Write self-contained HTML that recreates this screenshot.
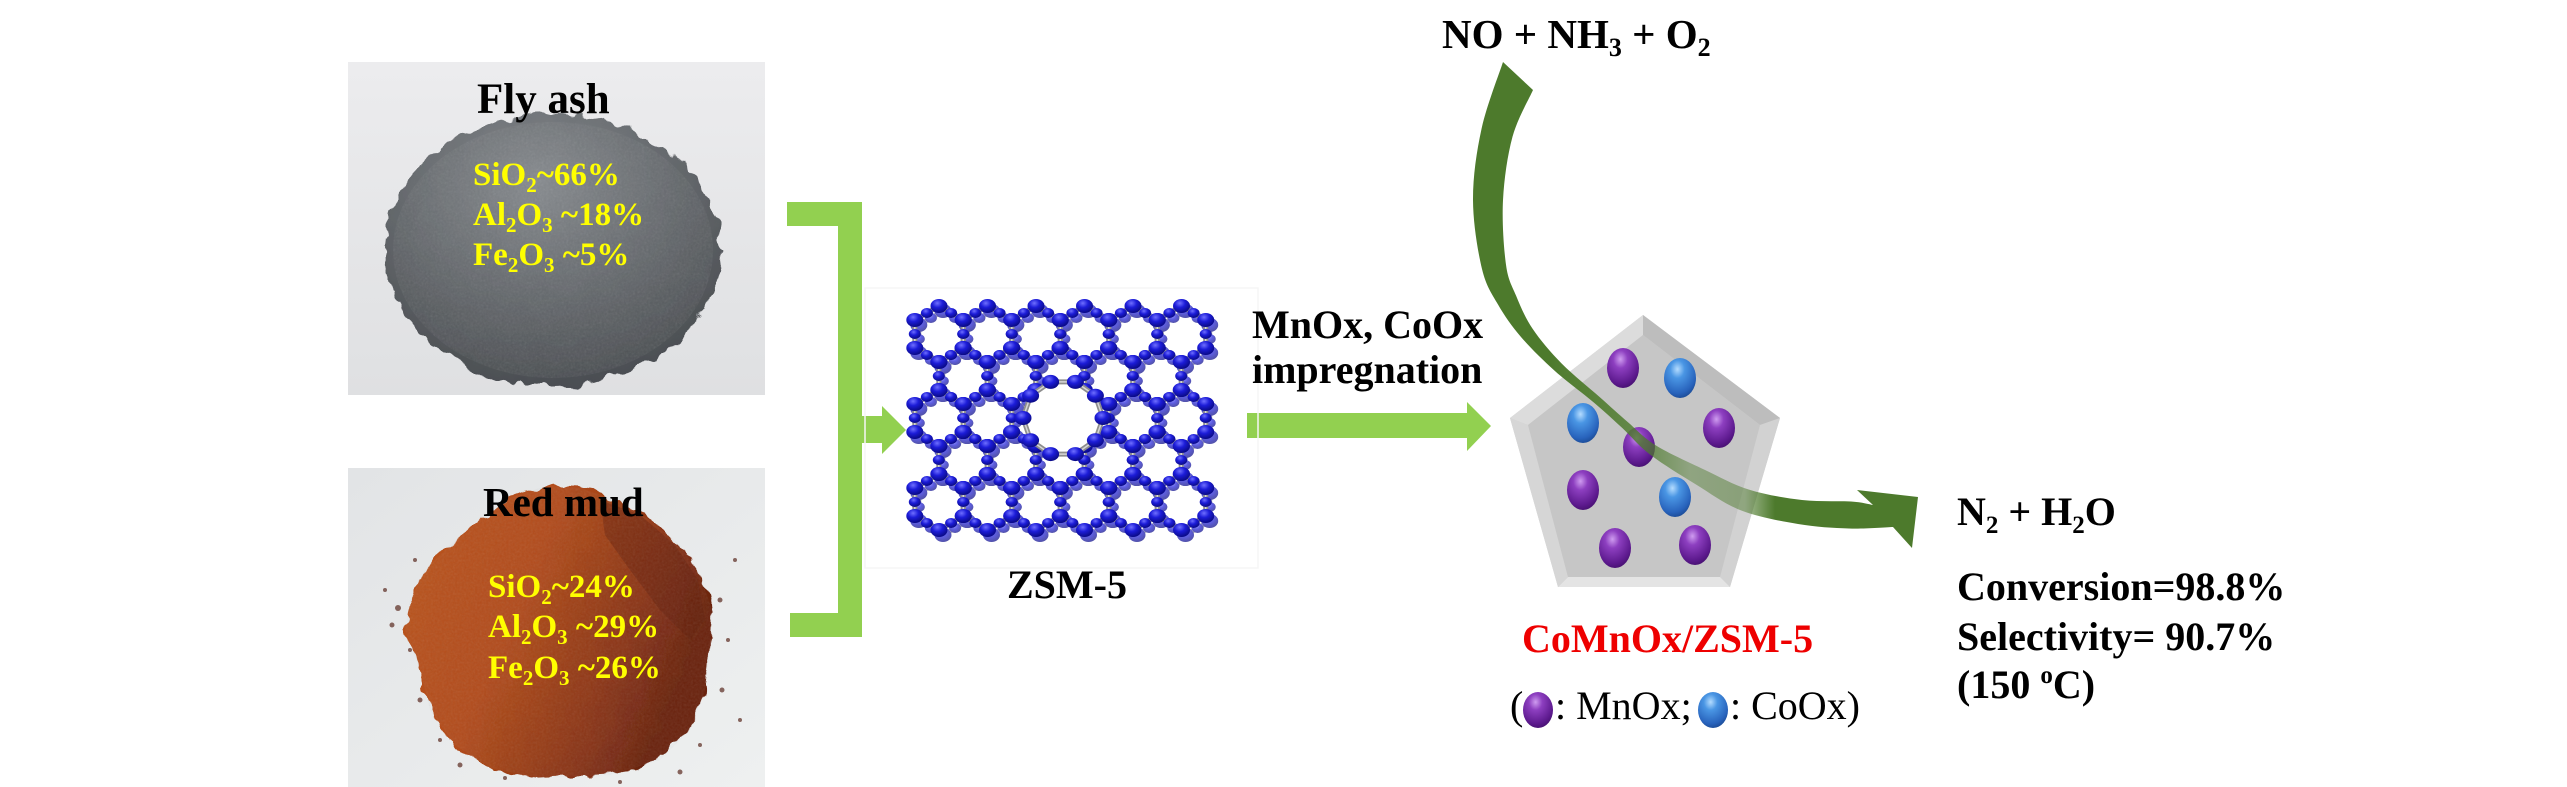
<!DOCTYPE html>
<html><head><meta charset="utf-8">
<style>
html,body{margin:0;padding:0;background:#fff;}
svg{display:block;}
text{font-family:"Liberation Serif","Times New Roman",serif;}
</style></head>
<body>
<svg width="2567" height="787" viewBox="0 0 2567 787" xmlns="http://www.w3.org/2000/svg">
<defs>
  <linearGradient id="flybg" x1="0" y1="0" x2="0" y2="1">
    <stop offset="0" stop-color="#ececee"/><stop offset="1" stop-color="#dfe0e2"/>
  </linearGradient>
  <linearGradient id="redbg" x1="0" y1="0" x2="1" y2="1">
    <stop offset="0" stop-color="#e2e4e6"/><stop offset="1" stop-color="#eef0f0"/>
  </linearGradient>
  <radialGradient id="flyp" cx="0.45" cy="0.25" r="0.85">
    <stop offset="0" stop-color="#868a8e"/><stop offset="0.5" stop-color="#64686c"/><stop offset="1" stop-color="#43464a"/>
  </radialGradient>
  <linearGradient id="redp" x1="0" y1="0" x2="1" y2="0.4">
    <stop offset="0" stop-color="#bb5520"/><stop offset="0.45" stop-color="#b24c1b"/><stop offset="0.8" stop-color="#8a3414"/><stop offset="1" stop-color="#6a2410"/>
  </linearGradient>
  <filter id="rough" x="-10%" y="-10%" width="120%" height="120%">
    <feTurbulence type="fractalNoise" baseFrequency="0.06" numOctaves="2" seed="4" result="t"/>
    <feDisplacementMap in="SourceGraphic" in2="t" scale="16" xChannelSelector="R" yChannelSelector="G"/>
  </filter>
  <filter id="grain" x="0" y="0" width="100%" height="100%">
    <feTurbulence type="fractalNoise" baseFrequency="0.45" numOctaves="2" seed="7"/>
    <feColorMatrix type="saturate" values="0"/>
    <feComposite in2="SourceGraphic" operator="in"/>
  </filter>
  <clipPath id="mudclip">
    <polygon points="545,486 580,488 615,500 650,520 680,545 700,575 712,610 710,650 705,690 690,730 660,760 610,775 540,778 490,768 455,745 430,710 420,670 405,630 410,600 425,570 450,545 480,520 510,498"/>
  </clipPath>
  <radialGradient id="gp" cx="0.42" cy="0.28" r="0.75">
    <stop offset="0" stop-color="#cf9cf0"/><stop offset="0.3" stop-color="#8d3fc0"/><stop offset="0.8" stop-color="#5d1a8e"/><stop offset="1" stop-color="#461070"/>
  </radialGradient>
  <radialGradient id="gb" cx="0.42" cy="0.28" r="0.75">
    <stop offset="0" stop-color="#b4dcff"/><stop offset="0.3" stop-color="#4a96e4"/><stop offset="0.8" stop-color="#2863bc"/><stop offset="1" stop-color="#1b4a94"/>
  </radialGradient>
  <radialGradient id="gm" cx="0.4" cy="0.3" r="0.7">
    <stop offset="0" stop-color="#6f6fff"/><stop offset="0.45" stop-color="#1c1cd8"/><stop offset="1" stop-color="#0a0a86"/>
  </radialGradient>
  <linearGradient id="bandop" gradientUnits="userSpaceOnUse" x1="1440" y1="0" x2="1940" y2="0">
    <stop offset="0" stop-color="#4d7a2c" stop-opacity="1"/>
    <stop offset="0.22" stop-color="#4d7a2c" stop-opacity="1"/>
    <stop offset="0.4" stop-color="#4d7a2c" stop-opacity="0.8"/>
    <stop offset="0.5" stop-color="#4d7a2c" stop-opacity="0.45"/>
    <stop offset="0.61" stop-color="#4d7a2c" stop-opacity="0.5"/>
    <stop offset="0.67" stop-color="#4d7a2c" stop-opacity="1"/>
    <stop offset="1" stop-color="#4d7a2c" stop-opacity="1"/>
  </linearGradient>
  <g id="hx">
    <polygon points="0,-28 24.2,-14 24.2,14 0,28 -24.2,14 -24.2,-14" fill="none" stroke="#8e8e8e" stroke-width="5"/>
    <polygon points="0,-28 24.2,-14 24.2,14 0,28 -24.2,14 -24.2,-14" fill="none" stroke="#d6d6d6" stroke-width="1.5"/>
    <ellipse cx="12.1" cy="-21" rx="6" ry="5" fill="url(#gm)"/>
    <ellipse cx="24.2" cy="0" rx="6" ry="5" fill="url(#gm)"/>
    <ellipse cx="12.1" cy="21" rx="6" ry="5" fill="url(#gm)"/>
    <ellipse cx="-12.1" cy="21" rx="6" ry="5" fill="url(#gm)"/>
    <ellipse cx="-24.2" cy="0" rx="6" ry="5" fill="url(#gm)"/>
    <ellipse cx="-12.1" cy="-21" rx="6" ry="5" fill="url(#gm)"/>
    <ellipse cx="0" cy="-28" rx="8.5" ry="7" fill="url(#gm)"/>
    <ellipse cx="24.2" cy="-14" rx="8.5" ry="7" fill="url(#gm)"/>
    <ellipse cx="24.2" cy="14" rx="8.5" ry="7" fill="url(#gm)"/>
    <ellipse cx="0" cy="28" rx="8.5" ry="7" fill="url(#gm)"/>
    <ellipse cx="-24.2" cy="14" rx="8.5" ry="7" fill="url(#gm)"/>
    <ellipse cx="-24.2" cy="-14" rx="8.5" ry="7" fill="url(#gm)"/>
  </g>
  <g id="lattice">
    <use href="#hx" x="937" y="331"/><use href="#hx" x="985.5" y="331"/><use href="#hx" x="1034" y="331"/><use href="#hx" x="1082.5" y="331"/><use href="#hx" x="1131" y="331"/><use href="#hx" x="1179.5" y="331"/>
    <use href="#hx" x="961" y="373"/><use href="#hx" x="1009.5" y="373"/><use href="#hx" x="1058" y="373"/><use href="#hx" x="1106.5" y="373"/><use href="#hx" x="1155" y="373"/>
    <use href="#hx" x="937" y="415"/><use href="#hx" x="985.5" y="415"/><use href="#hx" x="1131" y="415"/><use href="#hx" x="1179.5" y="415"/>
    <use href="#hx" x="961" y="457"/><use href="#hx" x="1009.5" y="457"/><use href="#hx" x="1058" y="457"/><use href="#hx" x="1106.5" y="457"/><use href="#hx" x="1155" y="457"/>
    <use href="#hx" x="937" y="499"/><use href="#hx" x="985.5" y="499"/><use href="#hx" x="1034" y="499"/><use href="#hx" x="1082.5" y="499"/><use href="#hx" x="1131" y="499"/><use href="#hx" x="1179.5" y="499"/>
  </g>
</defs>

<!-- ===== Fly ash photo ===== -->
<rect x="348" y="62" width="417" height="333" fill="url(#flybg)"/>
<ellipse cx="553" cy="250" rx="168" ry="136" fill="url(#flyp)" filter="url(#rough)"/>
<ellipse cx="553" cy="250" rx="160" ry="128" fill="#ffffff" opacity="0.14" filter="url(#grain)"/>
<text x="477" y="113" font-size="43" font-weight="bold" fill="#000">Fly ash</text>
<g font-size="33" font-weight="bold" fill="#ffff00">
  <text x="473" y="185">SiO<tspan font-size="21" dy="7">2</tspan><tspan dy="-7">~66%</tspan></text>
  <text x="473" y="225">Al<tspan font-size="21" dy="7">2</tspan><tspan dy="-7">O</tspan><tspan font-size="21" dy="7">3</tspan><tspan dy="-7"> ~18%</tspan></text>
  <text x="473" y="265">Fe<tspan font-size="21" dy="7">2</tspan><tspan dy="-7">O</tspan><tspan font-size="21" dy="7">3</tspan><tspan dy="-7"> ~5%</tspan></text>
</g>

<!-- ===== Red mud photo ===== -->
<rect x="348" y="468" width="417" height="319" fill="url(#redbg)"/>
<g fill="#5a2a20" opacity="0.7">
  <circle cx="398" cy="608" r="3"/><circle cx="392" cy="625" r="2.5"/><circle cx="410" cy="650" r="2"/>
  <circle cx="420" cy="700" r="2.5"/><circle cx="440" cy="740" r="2"/><circle cx="460" cy="765" r="2.5"/>
  <circle cx="720" cy="600" r="2.5"/><circle cx="728" cy="640" r="2"/><circle cx="722" cy="690" r="2.5"/>
  <circle cx="700" cy="745" r="2"/><circle cx="680" cy="772" r="2.5"/><circle cx="735" cy="560" r="2"/>
  <circle cx="505" cy="778" r="2"/><circle cx="620" cy="782" r="2"/><circle cx="740" cy="720" r="2"/>
  <circle cx="385" cy="590" r="2"/><circle cx="415" cy="560" r="2"/>
</g>
<polygon points="545,486 580,488 615,500 650,520 680,545 700,575 712,610 710,650 705,690 690,730 660,760 610,775 540,778 490,768 455,745 430,710 420,670 405,630 410,600 425,570 450,545 480,520 510,498" fill="url(#redp)" filter="url(#rough)"/>
<polygon points="600,500 640,515 675,545 698,580 705,620 690,640 660,610 630,570 605,535" fill="#5e1e0c" opacity="0.4"/>
<g clip-path="url(#mudclip)">
  <rect x="400" y="480" width="320" height="300" fill="#000" opacity="0.12" filter="url(#grain)"/>
</g>
<text x="483" y="516" font-size="41" font-weight="bold" fill="#000">Red mud</text>
<g font-size="33" font-weight="bold" fill="#ffff00">
  <text x="488" y="597">SiO<tspan font-size="21" dy="7">2</tspan><tspan dy="-7">~24%</tspan></text>
  <text x="488" y="637">Al<tspan font-size="21" dy="7">2</tspan><tspan dy="-7">O</tspan><tspan font-size="21" dy="7">3</tspan><tspan dy="-7"> ~29%</tspan></text>
  <text x="488" y="678">Fe<tspan font-size="21" dy="7">2</tspan><tspan dy="-7">O</tspan><tspan font-size="21" dy="7">3</tspan><tspan dy="-7"> ~26%</tspan></text>
</g>

<!-- ===== Bracket + arrows ===== -->
<g fill="#92d050">
  <rect x="787" y="202" width="75" height="24"/>
  <rect x="838" y="202" width="24" height="435"/>
  <rect x="790" y="613" width="72" height="24"/>
  <rect x="860" y="416" width="24" height="27"/>
  <polygon points="882,406 906,430 882,454"/>
  <rect x="1247" y="413" width="222" height="25"/>
  <polygon points="1467,402 1491,426 1467,451"/>
</g>

<!-- ===== ZSM-5 ===== -->
<rect x="865" y="288" width="393" height="280" fill="none" stroke="#f6f6f6" stroke-width="1.5"/>
<g transform="translate(6,8)" opacity="0.7"><use href="#lattice"/></g>
<g transform="translate(2,3)"><use href="#lattice"/></g>
<!-- central pore -->
<ellipse cx="1063" cy="418" rx="38" ry="36" fill="#ffffff"/>
<polygon points="1103,418 1095.4,440.3 1075.4,454.1 1050.6,454.1 1030.6,440.3 1023,418 1030.6,395.7 1050.6,381.9 1075.4,381.9 1095.4,395.7" fill="none" stroke="#8e8e8e" stroke-width="5"/>
<polygon points="1103,418 1095.4,440.3 1075.4,454.1 1050.6,454.1 1030.6,440.3 1023,418 1030.6,395.7 1050.6,381.9 1075.4,381.9 1095.4,395.7" fill="none" stroke="#d6d6d6" stroke-width="1.5"/>
<g fill="url(#gm)">
  <ellipse cx="1103" cy="418" rx="8.5" ry="7"/><ellipse cx="1095.4" cy="440.3" rx="8.5" ry="7"/>
  <ellipse cx="1075.4" cy="454.1" rx="8.5" ry="7"/><ellipse cx="1050.6" cy="454.1" rx="8.5" ry="7"/>
  <ellipse cx="1030.6" cy="440.3" rx="8.5" ry="7"/><ellipse cx="1023" cy="418" rx="8.5" ry="7"/>
  <ellipse cx="1030.6" cy="395.7" rx="8.5" ry="7"/><ellipse cx="1050.6" cy="381.9" rx="8.5" ry="7"/>
  <ellipse cx="1075.4" cy="381.9" rx="8.5" ry="7"/><ellipse cx="1095.4" cy="395.7" rx="8.5" ry="7"/>
</g>
<text x="1067" y="598" font-size="40" font-weight="bold" text-anchor="middle" fill="#000">ZSM-5</text>

<!-- ===== impregnation label ===== -->
<text x="1252" y="338" font-size="40" font-weight="bold" fill="#000">MnOx, CoOx</text>
<text x="1252" y="383" font-size="40" font-weight="bold" fill="#000">impregnation</text>

<!-- ===== Pentagon catalyst ===== -->
<g>
  <polygon points="1643,315 1780,418 1730,587 1558,587 1510,418" fill="#cfcfcf"/>
  <polygon points="1643,315 1643,335 1528,425 1510,418" fill="#dcdcdc"/>
  <polygon points="1643,315 1780,418 1760,425 1643,335" fill="#bdbdbd"/>
  <polygon points="1780,418 1730,587 1720,577 1760,425" fill="#d2d2d2"/>
  <polygon points="1730,587 1558,587 1568,577 1720,577" fill="#e4e4e4"/>
  <polygon points="1558,587 1510,418 1528,425 1568,577" fill="#d6d6d6"/>
  <polygon points="1643,335 1760,425 1720,577 1568,577 1528,425" fill="#c6c6c6"/>
</g>
<g>
  <ellipse cx="1623" cy="368" rx="16" ry="20" fill="url(#gp)"/>
  <ellipse cx="1680" cy="378" rx="16" ry="20" fill="url(#gb)"/>
  <ellipse cx="1583" cy="423" rx="16" ry="20" fill="url(#gb)"/>
  <ellipse cx="1719" cy="428" rx="16" ry="20" fill="url(#gp)"/>
  <ellipse cx="1639" cy="447" rx="16" ry="20" fill="url(#gp)"/>
  <ellipse cx="1583" cy="490" rx="16" ry="20" fill="url(#gp)"/>
  <ellipse cx="1675" cy="497" rx="16" ry="20" fill="url(#gb)"/>
  <ellipse cx="1615" cy="548" rx="16" ry="20" fill="url(#gp)"/>
  <ellipse cx="1695" cy="545" rx="16" ry="20" fill="url(#gp)"/>
</g>

<!-- ===== Curved dark green arrow ===== -->
<path fill="url(#bandop)" d="M1503,62
 C1499.4,73.2 1486.5,106 1481.5,129
 C1476.5,152 1472.9,176.7 1473,200
 C1473.1,223.3 1477.8,251.6 1482,269
 C1486.2,286.4 1491.5,293.2 1498,304.5
 C1504.5,315.8 1511.6,326 1521,337
 C1530.4,348 1542.3,359.6 1554.5,370.6
 C1566.7,381.6 1583.1,393.4 1594.4,403
 C1605.7,412.6 1613,419.4 1622.3,428
 C1631.6,436.6 1637.7,445.1 1650,454.5
 C1662.3,463.9 1680.8,475.2 1696,484.5
 C1711.2,493.8 1724,503.8 1741,510.4
 C1758,517 1780,521 1798,524
 C1816,527 1833.2,528 1849,528.5
 C1864.8,529 1885.7,527.3 1893,527
 L1912,548 L1918,497 L1857,490 L1873,505
 C1869.3,504.4 1862.8,502.3 1851,501.5
 C1839.2,500.7 1819,502 1802,500
 C1785,498 1765.3,494.7 1749,489.6
 C1732.7,484.5 1719.5,476.9 1704,469.5
 C1688.5,462.1 1668.7,453.4 1656,445.5
 C1643.3,437.6 1637.1,430.1 1627.7,422
 C1618.3,413.9 1610.6,406.8 1599.6,397
 C1588.6,387.2 1572.7,374.8 1561.5,363.4
 C1550.3,352 1540.2,340.1 1532.6,328.8
 C1525,317.5 1520.4,306.2 1516,295.5
 C1511.6,284.8 1508.2,280.6 1506,264.7
 C1503.8,248.8 1501.9,221.6 1503,200.3
 C1504.1,179 1507.5,155.2 1512.5,136.8
 C1517.5,118.4 1529.6,97.9 1533,90 Z"/>

<!-- ===== Reaction texts ===== -->
<text x="1442" y="48" font-size="41" font-weight="bold" fill="#000">NO + NH<tspan font-size="26" dy="8">3</tspan><tspan dy="-8"> + O</tspan><tspan font-size="26" dy="8">2</tspan></text>

<text x="1522" y="652" font-size="40" font-weight="bold" fill="#ee0000">CoMnOx/ZSM-5</text>
<text x="1510" y="719" font-size="40" fill="#000">(</text>
<ellipse cx="1538" cy="710" rx="15" ry="18" fill="url(#gp)"/>
<text x="1555" y="719" font-size="40" fill="#000">: MnOx;</text>
<ellipse cx="1713" cy="710" rx="15" ry="18" fill="url(#gb)"/>
<text x="1730" y="719" font-size="40" fill="#000">: CoOx)</text>

<text x="1957" y="525" font-size="40" font-weight="bold" fill="#000">N<tspan font-size="25" dy="8">2</tspan><tspan dy="-8"> + H</tspan><tspan font-size="25" dy="8">2</tspan><tspan dy="-8">O</tspan></text>
<text x="1957" y="600" font-size="40" font-weight="bold" fill="#000">Conversion=98.8%</text>
<text x="1957" y="650" font-size="40" font-weight="bold" fill="#000">Selectivity= 90.7%</text>
<text x="1957" y="698" font-size="40" font-weight="bold" fill="#000">(150 <tspan font-size="25" dy="-15">o</tspan><tspan dy="15">C)</tspan></text>
</svg>
</body></html>
